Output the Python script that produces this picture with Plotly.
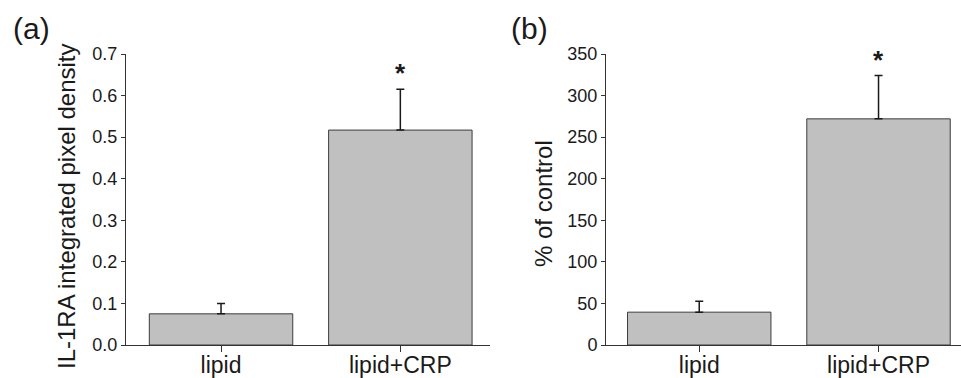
import plotly.graph_objects as go

categories = ["lipid", "lipid+CRP"]
density_values = [0.075, 0.517]
density_errors = [0.025, 0.098]
percent_values = [39.5, 272]
percent_errors = [13, 52]
density_ticks = [0.0, 0.1, 0.2, 0.3, 0.4, 0.5, 0.6, 0.7]
density_ticklabels = ["0.0", "0.1", "0.2", "0.3", "0.4", "0.5", "0.6", "0.7"]
percent_ticks = [0, 50, 100, 150, 200, 250, 300, 350]

W, H = 961, 378
FONT = "Liberation Sans, Arial, sans-serif"
TXT = "#1a1a1a"
AX = "#333333"

fig = go.Figure()
bar_style = dict(marker=dict(color="#c0c0c0", line=dict(color="#3c3c3c", width=1)),
                 width=0.8, showlegend=False, hoverinfo="skip")
err_style = dict(type="data", symmetric=False, color="#1a1a1a", thickness=1.5, width=4)

fig.add_trace(go.Bar(x=[0, 1], y=density_values,
                     error_y=dict(array=density_errors, arrayminus=[0, 0], **err_style),
                     xaxis="x", yaxis="y", **bar_style))
fig.add_trace(go.Bar(x=[0, 1], y=percent_values,
                     error_y=dict(array=percent_errors, arrayminus=[0, 0], **err_style),
                     xaxis="x2", yaxis="y2", **bar_style))

ydom = [33 / H, 324 / H]
common_x = dict(tickmode="array", tickvals=[0, 1], ticktext=categories,
                ticks="outside", ticklen=6, tickcolor=AX, tickwidth=1,
                showline=True, linecolor=AX, linewidth=1, showgrid=False, zeroline=False,
                tickfont=dict(family=FONT, size=23, color=TXT), fixedrange=True,
                automargin=False, ticklabelstandoff=-7)
common_y = dict(ticks="outside", ticklen=4, tickcolor=AX, tickwidth=1,
                showline=True, linecolor=AX, linewidth=1, showgrid=False, zeroline=False,
                tickfont=dict(family=FONT, size=18, color=TXT), domain=ydom, fixedrange=True,
                automargin=False)

fig.update_layout(
    width=W, height=H,
    margin=dict(l=0, r=0, t=0, b=0, autoexpand=False),
    paper_bgcolor="white", plot_bgcolor="white",
    barmode="overlay",
    xaxis=dict(domain=[126 / W, 490 / W], range=[-0.53, 1.5], anchor="y", **common_x),
    yaxis=dict(range=[0, 0.7], tickvals=density_ticks, ticktext=density_ticklabels,
               anchor="x", **common_y),
    xaxis2=dict(domain=[606 / W, 1.0], range=[-0.52, 1.46], anchor="y2", **common_x),
    yaxis2=dict(range=[0, 350], tickvals=percent_ticks, anchor="x2", **common_y),
    font=dict(family=FONT, color=TXT),
)

def label(text, xp, yp, size, angle=0):
    return dict(text=text, x=xp / W, y=1 - yp / H, xref="paper", yref="paper",
                xanchor="center", yanchor="middle", textangle=angle, showarrow=False,
                font=dict(size=size, family=FONT, color=TXT))

anns = [
    label("(a)", 31, 28, 30),
    label("(b)", 529, 28, 30),
    label("IL-1RA integrated pixel density", 66, 206, 24, -90),
    label("% of control", 543, 204, 24, -90),
    dict(text="<b>*</b>", x=1, y=0.654, xref="x", yref="y", showarrow=False,
         xanchor="center", yanchor="middle", font=dict(size=26, family=FONT, color=TXT)),
    dict(text="<b>*</b>", x=1, y=343, xref="x2", yref="y2", showarrow=False,
         xanchor="center", yanchor="middle", font=dict(size=26, family=FONT, color=TXT)),
]
fig.update_layout(annotations=anns)

fig.write_html("out.html", config={"displayModeBar": False},
               post_script="document.body.style.margin='0';document.body.style.overflow='hidden';")
